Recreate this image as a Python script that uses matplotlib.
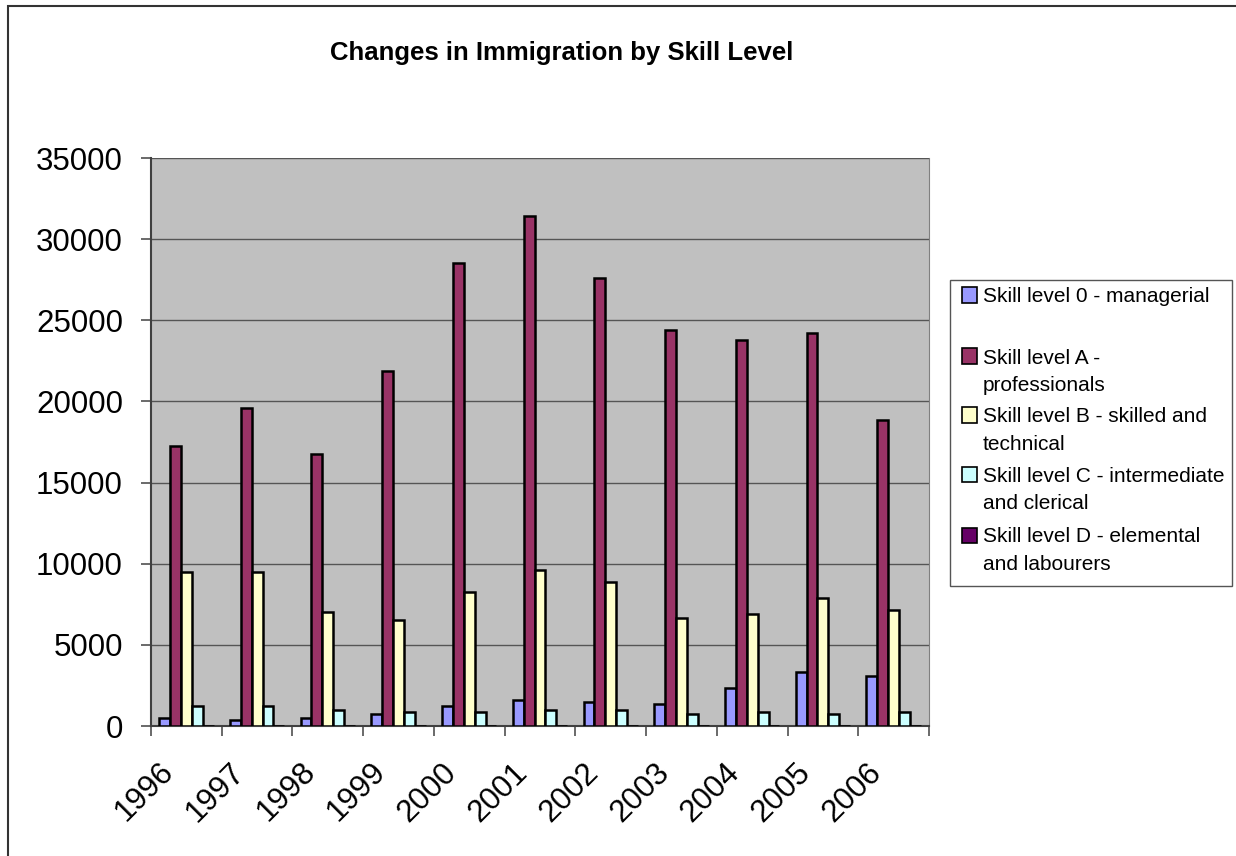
import matplotlib
matplotlib.use('Agg')
import matplotlib.pyplot as plt
import matplotlib.transforms as mtransforms
from matplotlib.patches import Rectangle
import numpy as np

years = ['1996', '1997', '1998', '1999', '2000', '2001', '2002', '2003', '2004', '2005', '2006']

skill_0 = [490, 350, 470, 740, 1230, 1600, 1480, 1360, 2340, 3330, 3080]
skill_a = [17250, 19600, 16750, 21900, 28500, 31430, 27600, 24400, 23800, 24200, 18850]
skill_b = [9490, 9480, 7020, 6530, 8250, 9610, 8870, 6650, 6900, 7880, 7150]
skill_c = [1230, 1230, 985, 860, 860, 985, 985, 740, 860, 740, 860]
skill_d = [0, 0, 0, 0, 0, 0, 0, 0, 0, 0, 0]

series = [skill_0, skill_a, skill_b, skill_c, skill_d]
labels = [['Skill level 0 - managerial', ''],
          ['Skill level A -', 'professionals'],
          ['Skill level B - skilled and', 'technical'],
          ['Skill level C - intermediate', 'and clerical'],
          ['Skill level D - elemental', 'and labourers']]
colors = ['#9999FF', '#993366', '#FFFFCC', '#CCFFFF', '#660066']

plt.rcParams['font.family'] = ['Liberation Sans', 'DejaVu Sans']

W, H = 1236, 856
fig = plt.figure(figsize=(W / 100, H / 100), dpi=100)
fig.patch.set_facecolor('white')

def fx(px):
    return px / W

def fy(py):
    return 1 - py / H

# outer chart border
fig.patches.append(Rectangle((fx(8), fy(900)), fx(1300), 900 / H - 6 / H,
                             transform=fig.transFigure, fill=False,
                             edgecolor='#333333', lw=1.5))

ax = fig.add_axes([fx(151), fy(726), fx(929 - 151), (726 - 158) / H])
ax.set_facecolor('#C0C0C0')

x = np.arange(len(years))
w = 1 / 6.5
for j, vals in enumerate(series):
    ax.bar(x + (j - 2) * w, vals, width=w, color=colors[j],
           edgecolor='black', linewidth=1.8, zorder=3)

ax.set_xlim(-0.5, len(years) - 0.5)
ax.set_ylim(0, 35000)
ax.set_yticks(range(0, 35001, 5000))
ax.yaxis.grid(True, color='#555555', lw=1, zorder=1)
ax.set_axisbelow(True)

ax.spines['top'].set_visible(False)
ax.spines['right'].set_color('#808080')
ax.spines['left'].set_color('#404040')
ax.spines['left'].set_linewidth(1.5)
ax.spines['bottom'].set_color('#404040')
ax.spines['bottom'].set_linewidth(1.5)

ax.tick_params(axis='y', labelsize=22.5, length=7.2, width=1.2,
               color='#505050', pad=13)

ax.set_xticks(x)
ax.set_xticklabels(years, rotation=45, ha='right', va='center',
                   rotation_mode='anchor', fontsize=22.5)
ax.set_xticks(np.arange(len(years) + 1) - 0.5, minor=True)
ax.tick_params(axis='x', which='major', length=0, pad=30)
ax.tick_params(axis='x', which='minor', length=7.2, width=1.2, color='#505050')
shift = mtransforms.ScaledTranslation(-17 / 100, 0, fig.dpi_scale_trans)
for lab in ax.get_xticklabels():
    lab.set_transform(lab.get_transform() + shift)

fig.text(fx(562), fy(53), 'Changes in Immigration by Skill Level',
         ha='center', va='center', fontsize=18.5, fontweight='bold')

# legend box
fig.patches.append(Rectangle((fx(950), fy(586)), fx(1232 - 950), (586 - 280) / H,
                             transform=fig.transFigure, facecolor='white',
                             edgecolor='#555555', lw=1))
first_line = [295, 356, 415, 474, 535]
for j, (lines, yc) in enumerate(zip(labels, first_line)):
    fig.patches.append(Rectangle((fx(962), fy(yc + 7.5)), fx(15), 15 / H,
                                 transform=fig.transFigure, facecolor=colors[j],
                                 edgecolor='black', lw=1.2))
    for k, line in enumerate(lines):
        fig.text(fx(983), fy(yc + 7.5 + 27.5 * k), line, ha='left',
                 va='baseline', fontsize=15)

fig.savefig('out.png', dpi=100)
